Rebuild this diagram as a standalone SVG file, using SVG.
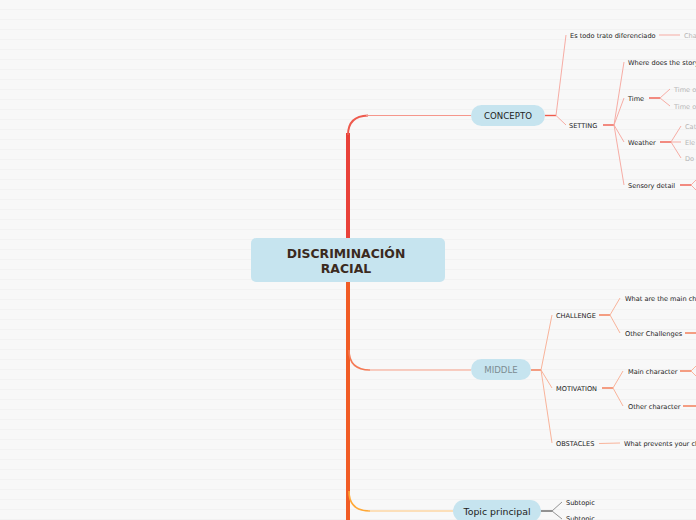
<svg xmlns="http://www.w3.org/2000/svg" width="696" height="520" viewBox="0 0 696 520">
<defs>
<pattern id="stripes" x="0" y="0" width="696" height="10" patternUnits="userSpaceOnUse">
<rect x="0" y="0" width="696" height="10" fill="#f8f8f8"/>
<rect x="0" y="9" width="696" height="1" fill="#f2f2f2"/>
</pattern>
<style>
.t{font-family:"DejaVu Sans",Verdana,sans-serif;font-size:6.6px;fill:#222;dominant-baseline:central}
.g{fill:#b5b5b5}
.pill{fill:#c6e4ef}
.lc{fill:none;stroke:#f6a49b;stroke-width:0.9}
.lcs{fill:none;stroke:#ef5b4c;stroke-width:1.4}
.lm{fill:none;stroke:#f8ab90;stroke-width:0.9}
.lms{fill:none;stroke:#f2764f;stroke-width:1.4}
.lt{fill:none;stroke:#888;stroke-width:0.9}
.lts{fill:none;stroke:#666;stroke-width:1.4}
</style>
</defs>
<rect x="0" y="0" width="696" height="520" fill="url(#stripes)"/>

<g id="connectors">
  <path d="M348,238 L348,133" fill="none" stroke="#e9423a" stroke-width="4"/>
  <path d="M348,135 Q348,116 368,115.5" fill="none" stroke="#ee5a4e" stroke-width="2"/>
  <path d="M366,115.5 L471,115.5" fill="none" stroke="#f5968b" stroke-width="1.1"/>
  <path d="M348,282 L348,520" fill="none" stroke="#f15c25" stroke-width="4"/>
  <path d="M349,350 Q349,370 370,370" fill="none" stroke="#f47a55" stroke-width="1.6"/>
  <path d="M368,370 L471,370" fill="none" stroke="#f7a087" stroke-width="1.1"/>
  <path d="M349,491 Q349,511 370,511" fill="none" stroke="#ffa836" stroke-width="1.6"/>
  <path d="M368,511 L453,511" fill="none" stroke="#ffc67a" stroke-width="1.1"/>

  <path class="lcs" d="M545,115.5 L556,115.5"/>
  <path class="lc" d="M556,115.5 L566,35"/>
  <path class="lc" d="M556,115.5 L566,125"/>
  <path class="lc" d="M659,35 L680,35"/>
  <path class="lcs" d="M603,125 L614,125"/>
  <path class="lc" d="M614,125 L624,62"/>
  <path class="lc" d="M614,125 L624,98"/>
  <path class="lc" d="M614,125 L624,142"/>
  <path class="lc" d="M614,125 L624,185"/>
  <path class="lcs" d="M649,98 L660,98"/>
  <path class="lc" d="M660,98 L670,89"/>
  <path class="lc" d="M660,98 L670,106"/>
  <path class="lcs" d="M660,142 L671,142"/>
  <path class="lc" d="M671,142 L681,126"/>
  <path class="lc" d="M671,142 L681,142"/>
  <path class="lc" d="M671,142 L681,158"/>
  <path class="lcs" d="M680,185 L691,185"/>
  <path class="lc" d="M691,185 L697,179"/>
  <path class="lc" d="M691,185 L697,191"/>

  <path class="lms" d="M531,370 L541,370"/>
  <path class="lm" d="M541,370 L552,315"/>
  <path class="lm" d="M541,370 L552,388"/>
  <path class="lm" d="M541,370 L552,443"/>
  <path class="lms" d="M599,315 L610,315"/>
  <path class="lm" d="M610,315 L620,298"/>
  <path class="lm" d="M610,315 L620,333"/>
  <path class="lms" d="M685,333 L697,333"/>
  <path class="lms" d="M602,388 L613,388"/>
  <path class="lm" d="M613,388 L623,371"/>
  <path class="lm" d="M613,388 L623,406"/>
  <path class="lms" d="M680,371 L691,371"/>
  <path class="lm" d="M691,371 L697,365"/>
  <path class="lm" d="M691,371 L697,377"/>
  <path class="lms" d="M683,406 L697,406"/>
  <path class="lm" d="M599,443.5 L620,443"/>

  <path class="lts" d="M541,511 L552,511"/>
  <path class="lt" d="M552,511 L562,502"/>
  <path class="lt" d="M552,511 L562,519"/>
</g>

<g id="root">
  <rect x="251" y="238" width="194" height="44" rx="5" fill="#c6e4ef"/>
  <text x="346" y="253.5" text-anchor="middle" font-family="'DejaVu Sans',Verdana,sans-serif" font-size="12.4" font-weight="bold" fill="#3b2a1e" dominant-baseline="central">DISCRIMINACIÓN</text>
  <text x="346" y="268.5" text-anchor="middle" font-family="'DejaVu Sans',Verdana,sans-serif" font-size="12.4" font-weight="bold" fill="#3b2a1e" dominant-baseline="central">RACIAL</text>
</g>

<g id="concepto">
  <rect class="pill" x="471" y="105" width="74" height="21" rx="10.5"/>
  <text x="508" y="116" text-anchor="middle" font-family="'DejaVu Sans',Verdana,sans-serif" font-size="8.6" fill="#222" dominant-baseline="central">CONCEPTO</text>
</g>
<g id="es-todo"><text class="t" x="570" y="35.5">Es todo trato diferenciado</text></g>
<g id="cha"><text class="t g" x="684" y="35.5">Cha</text></g>
<g id="setting"><text class="t" x="569" y="125.5">SETTING</text></g>
<g id="where"><text class="t" x="628" y="62.5">Where does the story</text></g>
<g id="time"><text class="t" x="628" y="98.5">Time</text></g>
<g id="time1"><text class="t g" x="674" y="89.5">Time o</text></g>
<g id="time2"><text class="t g" x="674" y="106.5">Time o</text></g>
<g id="weather"><text class="t" x="628" y="142.5">Weather</text></g>
<g id="cat"><text class="t g" x="685" y="126.5">Cat</text></g>
<g id="ele"><text class="t g" x="685" y="142.5">Ele</text></g>
<g id="do"><text class="t g" x="685" y="158.5">Do</text></g>
<g id="sensory"><text class="t" x="628" y="185.5">Sensory detail</text></g>

<g id="middle">
  <rect class="pill" x="471" y="359" width="60" height="21" rx="10.5"/>
  <text x="501" y="370" text-anchor="middle" font-family="'DejaVu Sans',Verdana,sans-serif" font-size="8.6" fill="#7b8b91" dominant-baseline="central">MIDDLE</text>
</g>
<g id="challenge"><text class="t" x="556" y="315.5">CHALLENGE</text></g>
<g id="main-cha"><text class="t" x="625" y="298.5">What are the main cha</text></g>
<g id="other-challenges"><text class="t" x="625" y="333.5">Other Challenges</text></g>
<g id="motivation"><text class="t" x="556" y="388.5">MOTIVATION</text></g>
<g id="main-character"><text class="t" x="628" y="371.5">Main character</text></g>
<g id="other-character"><text class="t" x="628" y="406.5">Other character</text></g>
<g id="obstacles"><text class="t" x="556" y="443.5">OBSTACLES</text></g>
<g id="prevents"><text class="t" x="624" y="443.5">What prevents your ch</text></g>

<g id="topic">
  <rect class="pill" x="453" y="500" width="88" height="22" rx="11"/>
  <text x="497" y="511" text-anchor="middle" font-family="'DejaVu Sans',Verdana,sans-serif" font-size="9.4" fill="#222" dominant-baseline="central">Topic principal</text>
</g>
<g id="sub1"><text class="t" x="566" y="502.5">Subtopic</text></g>
<g id="sub2"><text class="t" x="566" y="518.5">Subtopic</text></g>
</svg>
